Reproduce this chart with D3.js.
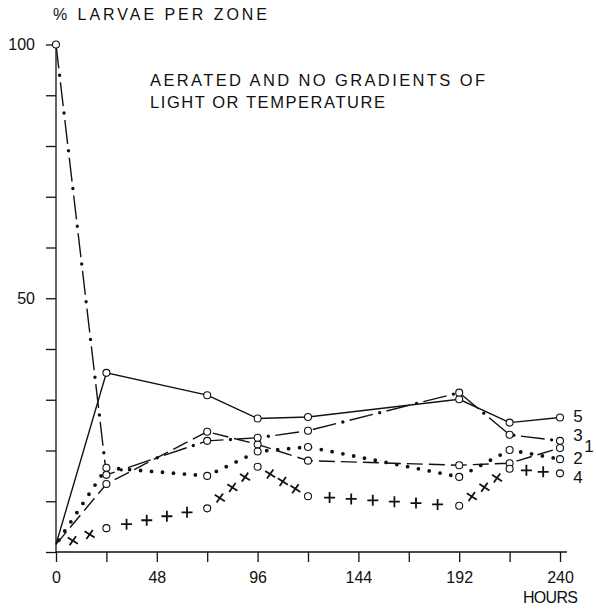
<!DOCTYPE html>
<html>
<head>
<meta charset="utf-8">
<script src="https://cdn.jsdelivr.net/npm/d3@7"></script>
<style>
  html, body { margin: 0; padding: 0; background: #fff; }
  svg { display: block; }
  text { font-family: "Liberation Sans", Arial, sans-serif; fill: #111; }
</style>
</head>
<body>
<svg id="chart" width="596" height="609"></svg>
<script>
// ---- data ----
const hours   = [0, 24, 72, 96, 120, 192, 216, 240];
const series1 = [1.5, 13.4, 23.7, 21.2, 18.0, 17.1, 17.5, 20.5];
const series2 = [1.5, 16.6, 15.0, 19.8, 20.7, 14.8, 20.1, 18.3];
const series3 = [100, 15.2, 21.9, 22.5, 23.9, 31.4, 23.1, 21.9];
const series4 = [1.0, 4.7, 8.6, 16.8, 11.0, 9.1, 16.4, 15.5];
const series5 = [1.5, 35.3, 30.9, 26.3, 26.6, 30.1, 25.5, 26.5];
const seriesNames = ["1", "2", "3", "4", "5"];
const xTicks = [0, 24, 48, 72, 96, 120, 144, 168, 192, 216, 240];
const xTickLabels = [0, 48, 96, 144, 192, 240];
const yTicks = [0, 10, 20, 30, 40, 50, 60, 70, 80, 90, 100];
const yTickLabels = [50, 100];
const yTitle = "% LARVAE PER ZONE";
const xTitle = "HOURS";
const noteLines = ["AERATED AND NO GRADIENTS OF", "LIGHT OR TEMPERATURE"];

// ---- layout / style ----
const svg = d3.select("#chart");
const x = d3.scaleLinear().domain([0, 240]).range([56, 560]);
const y = d3.scaleLinear().domain([0, 100]).range([552, 44.5]);
const ink = "#111";

// axes
const xAxis = d3.axisBottom(x).tickValues(xTicks).tickSize(10)
  .tickFormat(d => xTickLabels.includes(d) ? String(d) : "").tickPadding(10);
const gx = svg.append("g").attr("transform", `translate(0,${y(0)})`).call(xAxis);
gx.select(".domain").attr("d", `M${x(0)},0H567`).attr("stroke", ink).attr("stroke-width", 1.3);
gx.selectAll(".tick line").attr("stroke", ink).attr("stroke-width", 1.3);
gx.selectAll(".tick text").attr("font-size", 16).attr("font-family", "Liberation Sans, Arial, sans-serif").attr("fill", ink);

const yAxis = d3.axisLeft(y).tickValues(yTicks).tickSize(10)
  .tickFormat(d => yTickLabels.includes(d) ? String(d) : "").tickPadding(11);
const gy = svg.append("g").attr("transform", `translate(${x(0)},0)`).call(yAxis);
gy.select(".domain").attr("d", `M0,${y(100)}V${y(0)}`).attr("stroke", ink).attr("stroke-width", 1.3);
gy.selectAll(".tick line").attr("stroke", ink).attr("stroke-width", 1.3);
gy.selectAll(".tick text").attr("font-size", 16).attr("font-family", "Liberation Sans, Arial, sans-serif").attr("fill", ink);

// titles
svg.append("text").attr("x", 53).attr("y", 20).attr("font-size", 16)
  .attr("textLength", 214).attr("lengthAdjust", "spacing").text(yTitle);
svg.append("text").attr("x", 523).attr("y", 603).attr("font-size", 16)
  .attr("textLength", 55).attr("lengthAdjust", "spacing").text(xTitle);
const noteLen = [335, 235];
noteLines.forEach((t, i) => {
  svg.append("text").attr("x", 150).attr("y", 86 + i * 22).attr("font-size", 16.5)
    .attr("textLength", noteLen[i]).attr("lengthAdjust", "spacing").text(t);
});

const pts = vals => hours.map((h, i) => [h, vals[i]]);
const line = d3.line().x(d => x(d[0])).y(d => y(d[1]));
const plot = svg.append("g");

// series 5 : solid
plot.append("path").attr("d", line(pts(series5))).attr("fill", "none")
  .attr("stroke", ink).attr("stroke-width", 1.4);
// series 1 : long dashes
plot.append("path").attr("d", line(pts(series1))).attr("fill", "none")
  .attr("stroke", ink).attr("stroke-width", 1.4).attr("stroke-dasharray", "16 6");
// series 3 : dash-dot
plot.append("path").attr("d", line(pts(series3))).attr("fill", "none")
  .attr("stroke", ink).attr("stroke-width", 1.4).attr("stroke-dasharray", "24 14");
plot.append("path").attr("d", line(pts(series3))).attr("fill", "none")
  .attr("stroke", ink).attr("stroke-width", 3.4).attr("stroke-linecap", "round")
  .attr("stroke-dasharray", "0 38").attr("stroke-dashoffset", -31);
// series 2 : dots
plot.append("path").attr("d", line(pts(series2))).attr("fill", "none")
  .attr("stroke", ink).attr("stroke-width", 3.8).attr("stroke-linecap", "round")
  .attr("stroke-dasharray", "0 11").attr("stroke-dashoffset", -5);

// series 4 : crosses / pluses between points
const seg4Count = [2, 4, 3, 3, 6, 3, 2];
const seg4Type  = ["x", "+", "x", "x", "+", "x", "+"];
const p4 = pts(series4);
const marks4 = [];
seg4Count.forEach((n, i) => {
  const a = p4[i], b = p4[i + 1];
  for (let k = 1; k <= n; k++) {
    const f = k / (n + 1);
    marks4.push({ h: a[0] + (b[0] - a[0]) * f, v: a[1] + (b[1] - a[1]) * f, t: seg4Type[i] });
  }
});
plot.selectAll("path.m4").data(marks4).join("path").attr("class", "m4")
  .attr("transform", d => `translate(${x(d.h)},${y(d.v)})`)
  .attr("d", d => d.t === "+" ? "M-5.5,0H5.5M0,-5.5V5.5" : "M-5,-3.2L5,3.2M-3.2,4.5L3.2,-4.5")
  .attr("stroke", ink).attr("stroke-width", 1.8).attr("fill", "none");

// open circles
const circleSets = [
  pts(series5).slice(1), pts(series1).slice(1), pts(series3),
  pts(series2).slice(1), pts(series4).slice(1)
];
circleSets.forEach(set => {
  plot.selectAll(null).data(set).join("circle")
    .attr("cx", d => x(d[0])).attr("cy", d => y(d[1])).attr("r", 3.5)
    .attr("fill", "#fff").attr("stroke", ink).attr("stroke-width", 1.1);
});

// series labels at line ends
const lastVals = [series1, series2, series3, series4, series5].map(s => s[s.length - 1]);
const labelDx = [29, 18, 18, 18, 18];
const labelDy = [-1, -1, -5, 4, -1];
seriesNames.forEach((nm, i) => {
  svg.append("text").attr("x", x(240) + labelDx[i]).attr("y", y(lastVals[i]) + labelDy[i])
    .attr("dominant-baseline", "central").attr("text-anchor", "middle")
    .attr("font-size", 17).text(nm);
});
</script>
</body>
</html>
